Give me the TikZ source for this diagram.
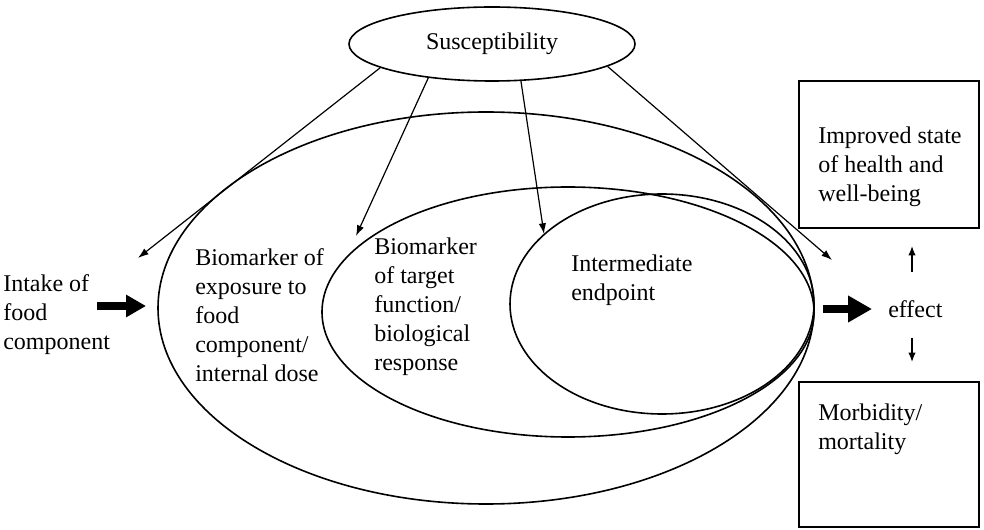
\documentclass[tikz,border=0pt]{standalone}
\usepackage{fontspec}
\setmainfont{Liberation Serif}
\usetikzlibrary{arrows.meta,shapes.geometric}
\begin{document}
\begin{tikzpicture}[x=0.75pt,y=-0.75pt,
  txt/.style={inner sep=0pt, align=left, font=\fontsize{18pt}{21.75pt}\selectfont},
  ring/.style={draw, ellipse, line width=1.2pt, inner sep=0pt},
  boxx/.style={draw, rectangle, line width=1.2pt, inner sep=0pt},
  susarrow/.style={line width=0.9pt, -{Latex[length=8pt,width=5.5pt]}},
  smallarrow/.style={line width=1pt, -{Latex[length=7pt,width=5.5pt]}},
  bigarrowL/.style={line width=5.5pt, -{Triangle[length=15pt,width=16pt]}},
  bigarrowR/.style={line width=5.5pt, -{Triangle[length=18pt,width=19pt]}}
]
\useasboundingbox (0,0) rectangle (984,530);

% nested ellipses
\node[ring, minimum width=492pt, minimum height=294pt] (outer) at (486,308) {};
\node[ring, minimum width=369pt, minimum height=187.5pt] (middle) at (568,312) {};
\node[ring, minimum width=228pt, minimum height=165pt] (inner) at (662,304) {};

% susceptibility
\node[ring, txt, minimum width=214.5pt, minimum height=55.5pt] (sus) at (492,44) {Susceptibility};

% boxes
\node[boxx, minimum width=135pt, minimum height=110.25pt] (good) at (889,154.5) {};
\node[boxx, minimum width=135pt, minimum height=108.75pt] (bad) at (889,454.5) {};

% texts
\node[txt, anchor=north west] (intake) at (3,274) {Intake of\\food\\component};
\node[txt, anchor=north west] (bmexp) at (195,248) {Biomarker of\\exposure to\\food\\component/\\internal dose};
\node[txt, anchor=north west] (bmtarget) at (374,238) {Biomarker\\of target\\function/\\biological\\response};
\node[txt, anchor=north west] (interm) at (571,255) {Intermediate\\endpoint};
\node[txt, anchor=north west] (goodtxt) at (818,127) {Improved state\\of health and\\well-being};
\node[txt, anchor=north west] (badtxt) at (818,404) {Morbidity/\\mortality};
\node[txt, anchor=west] (effect) at (888,309) {effect};

% arrows from susceptibility
\coordinate (t1) at (138,258);
\coordinate (t2) at (356,236);
\coordinate (t3) at (544,234);
\coordinate (t4) at (832,260);
\draw[susarrow] (sus.192) -- (t1);
\draw[susarrow] (sus.208) -- (t2);
\draw[susarrow] (sus.308) -- (t3);
\draw[susarrow] (sus.349) -- (t4);

% thick arrows
\coordinate (a1s) at (97,306);
\coordinate (a1e) at (146,306);
\coordinate (a2s) at (823,309);
\coordinate (a2e) at (872,309);
\draw[bigarrowL] (a1s) -- (a1e);
\draw[bigarrowR] (a2s) -- (a2e);

% small arrows near effect
\coordinate (u1) at (912,272);
\coordinate (u2) at (912,246);
\coordinate (d1) at (912,338);
\coordinate (d2) at (912,362);
\draw[smallarrow] (u1) -- (u2);
\draw[smallarrow] (d1) -- (d2);
\end{tikzpicture}
\end{document}
